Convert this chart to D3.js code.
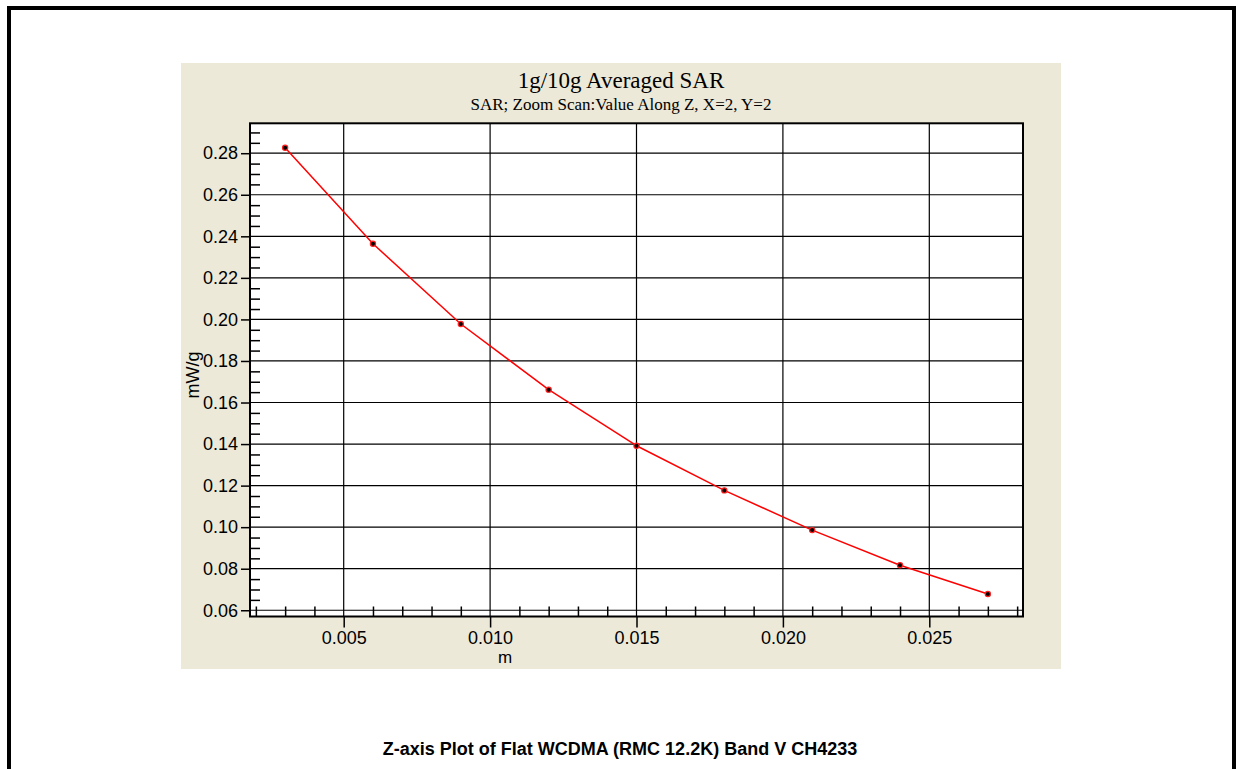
<!DOCTYPE html>
<html>
<head>
<meta charset="utf-8">
<script src="https://cdn.jsdelivr.net/npm/d3@7"></script>
<style>
  html, body { margin: 0; padding: 0; background: #fff; }
  svg { display: block; }
</style>
</head>
<body>
<div id="chart"></div>
<script>
// distance along Z (m) and averaged SAR (mW/g)
const depths = [0.003, 0.006, 0.009, 0.012, 0.015, 0.018, 0.021, 0.024, 0.027];
const sarValues = [0.2826, 0.2364, 0.1978, 0.1662, 0.1392, 0.1177, 0.0986, 0.0817, 0.0678];

const xTickValues = [0.005, 0.010, 0.015, 0.020, 0.025];
const yTickValues = [0.06, 0.08, 0.10, 0.12, 0.14, 0.16, 0.18, 0.20, 0.22, 0.24, 0.26, 0.28];

const titleText = "1g/10g Averaged SAR";
const subtitleText = "SAR; Zoom Scan:Value Along Z, X=2, Y=2";
const xLabel = "m";
const yLabel = "mW/g";
const captionText = "Z-axis Plot of Flat WCDMA (RMC 12.2K) Band V CH4233";

const width = 1238, height = 769;
const plot = { left: 250, right: 1023, top: 123.3, bottom: 616.5 };
const sans = "'Liberation Sans', Arial, sans-serif";
const serif = "'Liberation Serif', 'Times New Roman', serif";

const svg = d3.select("#chart").append("svg")
    .attr("width", width)
    .attr("height", height);

// outer frame (bottom edge runs off the page)
svg.append("rect")
    .attr("x", 9).attr("y", 8)
    .attr("width", 1225).attr("height", 820)
    .attr("fill", "none")
    .attr("stroke", "#000")
    .attr("stroke-width", 4);

// beige chart panel
svg.append("rect")
    .attr("x", 181).attr("y", 63)
    .attr("width", 880).attr("height", 606)
    .attr("fill", "#ECE9D8");

const x = d3.scaleLinear()
    .domain([0.0018, 0.0282])
    .range([plot.left, plot.right]);

const y = d3.scaleLinear()
    .domain([0.057, 0.2944])
    .range([plot.bottom, plot.top]);

// plot background
svg.append("rect")
    .attr("x", plot.left).attr("y", plot.top)
    .attr("width", plot.right - plot.left)
    .attr("height", plot.bottom - plot.top)
    .attr("fill", "#fff");

// grid
const grid = svg.append("g").attr("stroke", "#000").attr("stroke-width", 1.2);
grid.selectAll(".hgrid")
    .data(yTickValues)
    .join("line")
    .attr("x1", plot.left).attr("x2", plot.right)
    .attr("y1", d => y(d)).attr("y2", d => y(d));
grid.selectAll(".vgrid")
    .data(xTickValues)
    .join("line")
    .attr("y1", plot.top).attr("y2", plot.bottom)
    .attr("x1", d => x(d)).attr("x2", d => x(d));

// minor ticks point inward
const xMinor = d3.range(2, 29).map(d => d / 1000).filter(d => Math.round(d * 1000) % 5 !== 0);
const yMinor = d3.range(12, 59).map(d => d / 200).filter(d => Math.round(d * 200) % 4 !== 0);

svg.append("g")
    .attr("transform", `translate(0,${plot.bottom})`)
    .call(d3.axisTop(x).tickValues(xMinor).tickSize(10).tickFormat(""))
    .call(g => g.select(".domain").remove())
    .call(g => g.selectAll("line").attr("stroke-width", 1.5));

svg.append("g")
    .attr("transform", `translate(${plot.left},0)`)
    .call(d3.axisRight(y).tickValues(yMinor).tickSize(10).tickFormat(""))
    .call(g => g.select(".domain").remove())
    .call(g => g.selectAll("line").attr("stroke-width", 1.5));

// major axes
const xAxis = g => g
    .attr("transform", `translate(0,${plot.bottom})`)
    .call(d3.axisBottom(x).tickValues(xTickValues).tickSize(11).tickPadding(4).tickFormat(d3.format(".3f")))
    .call(g => g.select(".domain").remove())
    .call(g => g.selectAll("line").attr("stroke-width", 1.5))
    .call(g => g.selectAll("text").attr("font-family", sans).attr("font-size", 18).attr("fill", "#000"));

const yAxis = g => g
    .attr("transform", `translate(${plot.left},0)`)
    .call(d3.axisLeft(y).tickValues(yTickValues).tickSize(9).tickPadding(3).tickFormat(d3.format(".2f")))
    .call(g => g.select(".domain").remove())
    .call(g => g.selectAll("line").attr("stroke-width", 1.5))
    .call(g => g.selectAll("text").attr("font-family", sans).attr("font-size", 18).attr("fill", "#000"));

svg.append("g").call(xAxis);
svg.append("g").call(yAxis);

// plot border
svg.append("rect")
    .attr("x", plot.left).attr("y", plot.top)
    .attr("width", plot.right - plot.left)
    .attr("height", plot.bottom - plot.top)
    .attr("fill", "none")
    .attr("stroke", "#000")
    .attr("stroke-width", 2);

// SAR curve
const points = depths.map((d, i) => ({ depth: d, sar: sarValues[i] }));

const line = d3.line()
    .x(d => x(d.depth))
    .y(d => y(d.sar));

svg.append("path")
    .datum(points)
    .attr("fill", "none")
    .attr("stroke", "#ff0000")
    .attr("stroke-width", 1.5)
    .attr("stroke-linejoin", "round")
    .attr("d", line);

svg.append("g")
    .selectAll("circle")
    .data(points)
    .join("circle")
    .attr("cx", d => x(d.depth))
    .attr("cy", d => y(d.sar))
    .attr("r", 2.6)
    .attr("fill", "#000")
    .attr("stroke", "#ff2020")
    .attr("stroke-width", 1.2);

// titles and labels
svg.append("text")
    .attr("x", 621).attr("y", 88)
    .attr("text-anchor", "middle")
    .attr("font-family", serif)
    .attr("font-size", 23)
    .text(titleText);

svg.append("text")
    .attr("x", 621).attr("y", 110)
    .attr("text-anchor", "middle")
    .attr("font-family", serif)
    .attr("font-size", 17)
    .text(subtitleText);

svg.append("text")
    .attr("x", 505).attr("y", 663)
    .attr("text-anchor", "middle")
    .attr("font-family", sans)
    .attr("font-size", 17)
    .text(xLabel);

svg.append("text")
    .attr("transform", "translate(199,375) rotate(-90)")
    .attr("text-anchor", "middle")
    .attr("font-family", sans)
    .attr("font-size", 18)
    .text(yLabel);

svg.append("text")
    .attr("x", 620).attr("y", 755)
    .attr("text-anchor", "middle")
    .attr("font-family", sans)
    .attr("font-weight", "bold")
    .attr("font-size", 18)
    .text(captionText);
</script>
</body>
</html>
